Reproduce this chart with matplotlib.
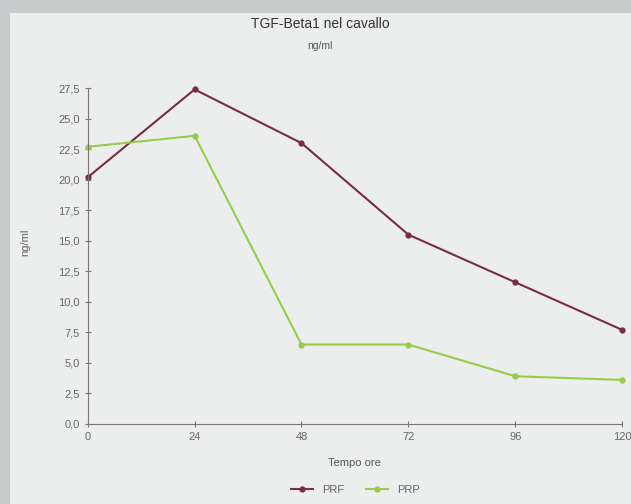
import numpy as np
import matplotlib.pyplot as plt
from matplotlib.patches import Rectangle

ore = [0, 24, 48, 72, 96, 120]
prf = [20.2, 27.4, 23.0, 15.5, 11.6, 7.7]
prp = [22.7, 23.6, 6.5, 6.5, 3.9, 3.6]
yticks = np.arange(0, 27.6, 2.5)
ylabels = [('%.1f' % v).replace('.', ',') for v in yticks]

plt.rcParams['font.family'] = ['Liberation Sans', 'DejaVu Sans']

fig = plt.figure(figsize=(6.31, 5.04), dpi=100, facecolor='#c9cacb')
fig.patches.append(Rectangle((0.016, 0.0), 0.984, 0.975, transform=fig.transFigure,
                             facecolor='#eceeee', edgecolor='none', zorder=-5))

ax = fig.add_axes([0.139, 0.159, 0.847, 0.666])
ax.set_facecolor('none')
ax.plot(ore, prf, color='#7b2d40', marker='o', markersize=3.5, lw=1.5, label='PRF', clip_on=False)
ax.plot(ore, prp, color='#96cc48', marker='o', markersize=3.5, lw=1.5, label='PRP', clip_on=False)

ax.set_xlim(0, 120)
ax.set_ylim(0, 27.5)
ax.set_xticks(ore)
ax.set_yticks(yticks)
ax.set_yticklabels(ylabels)
for s in ['top', 'right']:
    ax.spines[s].set_visible(False)
for s in ['left', 'bottom']:
    ax.spines[s].set_color('#777777')
    ax.spines[s].set_linewidth(0.8)
ax.tick_params(colors='#777777', labelcolor='#666666', labelsize=8, direction='inout', length=4)

ax.set_xlabel('Tempo ore', fontsize=8, color='#555555', labelpad=12)
fig.text(0.04, 0.52, 'ng/ml', rotation=90, fontsize=8, color='#666666', va='center', ha='center')
fig.text(0.507, 0.944, 'TGF-Beta1 nel cavallo', fontsize=10, color='#333333', ha='center')
fig.text(0.507, 0.903, 'ng/ml', fontsize=7.5, color='#555555', ha='center')

leg = fig.legend(loc='center', bbox_to_anchor=(0.563, 0.028), ncol=2, frameon=False,
                 fontsize=8, handlelength=2, columnspacing=2)
for t in leg.get_texts():
    t.set_color('#666666')

plt.savefig('out.png', dpi=100, facecolor=fig.get_facecolor())
